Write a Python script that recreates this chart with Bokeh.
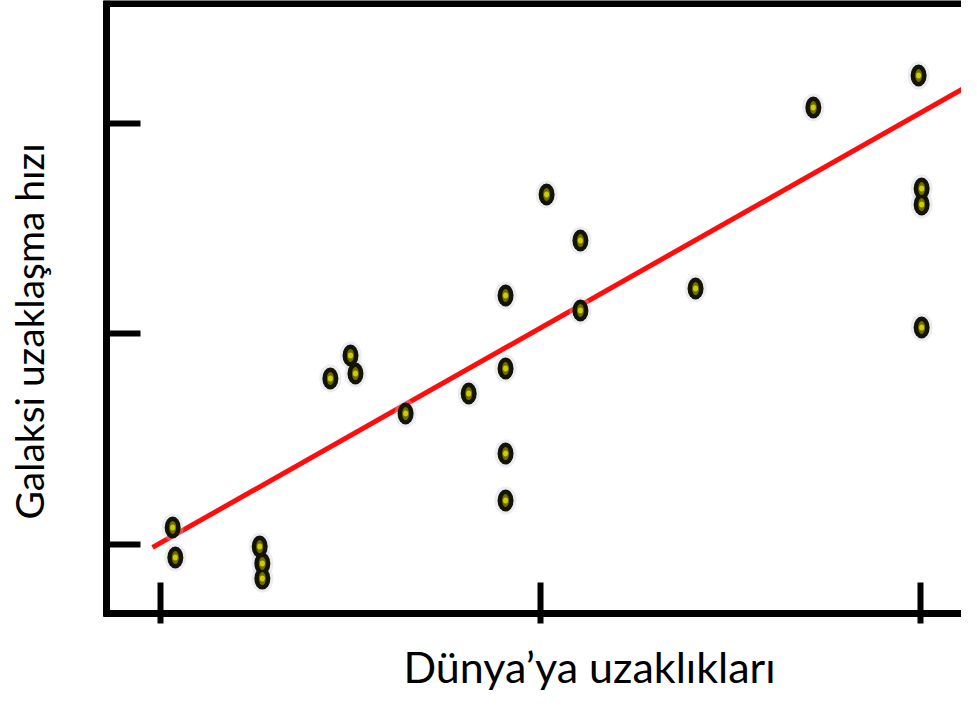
from bokeh.plotting import figure
from bokeh.models import Range1d, FixedTicker, LinearAxis, Label
from bokeh.embed import file_html
from bokeh.resources import INLINE

# ---- data (arbitrary units) ----
dist = [1.032, 1.039, 1.261, 1.268, 1.268, 1.447, 1.500, 1.513, 1.645, 1.811,
        1.908, 1.908, 1.908, 1.908, 2.016, 2.105, 2.105, 2.408, 2.718, 2.995,
        3.003, 3.003, 3.003]
vel = [1.081, 0.938, 0.990, 0.910, 0.838, 1.789, 1.898, 1.812, 1.622, 1.717,
       2.183, 1.836, 1.432, 1.209, 2.663, 2.444, 2.112, 2.216, 3.076, 3.228,
       2.691, 2.615, 2.031]
fit_x = [0.979, 3.15]
fit_y = [0.986, 3.204]
x_ticks = [1, 2, 3]
y_ticks = [1, 2, 3]
x_label = "Dünya’ya uzaklıkları"
y_label = "Galaksi uzaklaşma hızı"

# axis placement (data units)
X_AXIS_AT = 0.6722   # height of the horizontal axis
Y_AXIS_AT = 0.8579   # position of the vertical axis
TOP_AT = 3.570       # top frame line

W, H = 961, 695
p = figure(width=W, height=H, output_backend="svg", toolbar_location=None,
           x_range=Range1d(0.5789, 3.1079), y_range=Range1d(0.28266, 3.5843),
           min_border=0, background_fill_color="white",
           border_fill_color="white", outline_line_color=None)
p.grid.visible = False

FONT = "Lato"

# left axis
ya = p.yaxis[0]
ya.fixed_location = Y_AXIS_AT
ya.bounds = (0.6556, 3.7)
ya.ticker = FixedTicker(ticks=y_ticks)
ya.major_label_overrides = {t: "" for t in y_ticks}
ya.major_label_text_font_size = "1px"
ya.major_label_standoff = 0
ya.major_tick_in = 34
ya.major_tick_out = 0
ya.major_tick_line_width = 6
ya.major_tick_line_color = "black"
ya.minor_tick_line_color = None
ya.axis_line_width = 7
ya.axis_line_color = "black"

# bottom axis
xa = p.xaxis[0]
xa.fixed_location = X_AXIS_AT
xa.bounds = (0.8487, 3.3)
xa.ticker = FixedTicker(ticks=x_ticks)
xa.major_label_overrides = {t: "" for t in x_ticks}
xa.major_label_text_font_size = "1px"
xa.major_label_standoff = 0
xa.major_tick_in = 31
xa.major_tick_out = 10
xa.major_tick_line_width = 6
xa.major_tick_line_color = "black"
xa.minor_tick_line_color = None
xa.axis_line_width = 7
xa.axis_line_color = "black"

# top border
top = LinearAxis(ticker=FixedTicker(ticks=[]), fixed_location=TOP_AT,
                 bounds=(0.8487, 3.3), axis_line_width=7,
                 axis_line_color="black", major_tick_in=0, major_tick_out=0,
                 major_label_standoff=0, major_label_text_font_size="1px",
                 minor_tick_line_color=None, major_tick_line_color=None)
p.add_layout(top, "above")

# regression line
p.line(fit_x, fit_y, line_color="#ff0000", line_width=5, line_alpha=0.95)

# galaxies
p.ellipse(x=dist, y=vel, width=22, height=28, width_units="screen",
          height_units="screen", fill_color="#c8c8dc", fill_alpha=0.35,
          line_color=None)
p.ellipse(x=dist, y=vel, width=16, height=22, width_units="screen",
          height_units="screen", fill_color="#141405", line_color=None)
p.ellipse(x=dist, y=vel, width=7, height=13, width_units="screen",
          height_units="screen", fill_color="#6e6e00", line_color=None)
p.ellipse(x=dist, y=vel, width=5, height=6, width_units="screen",
          height_units="screen", fill_color="#cccc00", line_color=None)

# axis titles (screen units, origin at bottom-left of the frame)
xl = Label(text=x_label, x=403, y=29, x_units="screen", y_units="screen",
           text_align="left", text_baseline="alphabetic", text_font=FONT,
           text_font_size="43px", text_color="black")
p.add_layout(xl)
yl = Label(text=y_label, x=28, y=364, x_units="screen", y_units="screen",
           angle=90, angle_units="deg", text_align="center",
           text_baseline="alphabetic", text_font=FONT,
           text_font_size="39px", text_color="black")
p.add_layout(yl)

open("out.html", "w").write(file_html(p, INLINE))
